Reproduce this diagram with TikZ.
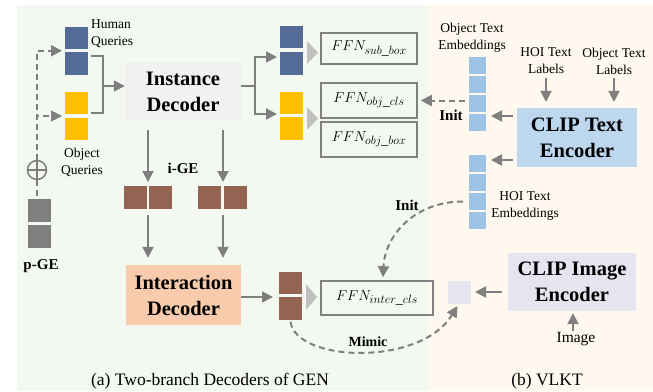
\documentclass[tikz,border=0pt]{standalone}
\usepackage{fontspec}
\setmainfont{Liberation Serif}
\usetikzlibrary{arrows.meta,calc,shapes.geometric}
\DeclareMathSizes{14}{14}{11.5}{8}
\definecolor{greenbg}{HTML}{F3F8F1}
\definecolor{creambg}{HTML}{FEF8EE}
\definecolor{qblue}{HTML}{546B95}
\definecolor{qyellow}{HTML}{FFC000}
\definecolor{brownq}{HTML}{946453}
\definecolor{grayq}{HTML}{7F7F7F}
\definecolor{instgray}{HTML}{F1F1F1}
\definecolor{interpeach}{HTML}{F8CBAD}
\definecolor{clipblue}{HTML}{BDD7EE}
\definecolor{embblue}{HTML}{9DC3E6}
\definecolor{lavender}{HTML}{E6E4EE}
\definecolor{trigray}{HTML}{C0C0C0}
\definecolor{arrgray}{HTML}{7F7F7F}
\definecolor{boxgray}{HTML}{808080}
\newcommand{\ffnlab}[1]{{\fontsize{14}{16}\selectfont$FFN_{#1}$}}
\begin{document}
\begin{tikzpicture}[x=1pt,y=-1pt,
  sq/.style={minimum width=23pt,minimum height=22.5pt,inner sep=0pt,outer sep=0pt},
  emb/.style={minimum width=17pt,minimum height=17pt,inner sep=0pt,outer sep=0pt,fill=embblue},
  ffn/.style={draw=boxgray,line width=1.6pt,inner sep=0pt},
  dec/.style={inner sep=0pt,font=\fontsize{20.5}{26}\selectfont\bfseries,align=center},
  lab/.style={font=\fontsize{13.5}{17}\selectfont,align=center,inner sep=0pt},
  blab/.style={font=\fontsize{15}{17}\selectfont\bfseries,inner sep=0pt},
  captext/.style={font=\fontsize{17.5}{20}\selectfont,inner sep=0pt},
  gl/.style={draw=arrgray,line width=2pt},
  arr/.style={gl,-{Triangle[length=11pt,width=11pt]}},
  darr/.style={arr,line width=2pt,dash pattern=on 6pt off 4pt}]
\useasboundingbox (0,0) rectangle (653,391);
\fill[greenbg] (17,5) rectangle (428,391);
\fill[creambg] (428,5) rectangle (653,391);

% left queries
\node[sq,fill=qblue] (hq1) at (76.5,38) {};
\node[sq,fill=qblue] (hq2) at (76.5,63.5) {};
\node[sq,fill=qyellow] (oq1) at (76.5,103) {};
\node[sq,fill=qyellow] (oq2) at (76.5,129) {};
\node[lab,anchor=west,align=left] (hqlab) at (91,34) {Human\\Queries};
\node[lab] (oqlab) at (82,162) {Object\\Queries};

% p-GE
\node[sq,minimum height=23pt,fill=grayq] (g1) at (39.5,210.5) {};
\node[sq,minimum height=23pt,fill=grayq] (g2) at (39.5,236.5) {};
\node[blab] (pge) at (41,266) {p-GE};
\node[circle,draw=arrgray,line width=1.5pt,minimum size=19pt,inner sep=0pt,
  path picture={\draw[arrgray,line width=1.5pt] (path picture bounding box.north) -- (path picture bounding box.south)
  (path picture bounding box.west) -- (path picture bounding box.east);}] (oplus) at (37,170) {};

% decoders
\node[dec,fill=instgray,minimum width=116pt,minimum height=59pt] (inst) at (183,91.5) {Instance\\Decoder};
\node[dec,fill=interpeach,minimum width=115pt,minimum height=60pt] (inter) at (183.5,295) {Interaction\\Decoder};

% output queries
\node[sq,fill=qblue] (sb1) at (291.5,37) {};
\node[sq,fill=qblue] (sb2) at (291.5,63.5) {};
\node[sq,fill=qyellow] (ob1) at (291.5,103) {};
\node[sq,fill=qyellow] (ob2) at (291.5,128.5) {};
\node[sq,fill=brownq] (bo1) at (290.5,283) {};
\node[sq,fill=brownq] (bo2) at (290.5,308.5) {};
\fill[trigray] (307,41) -- (318,52.5) -- (307,64) -- cycle;
\fill[trigray] (307,107) -- (318,118.5) -- (307,130) -- cycle;
\fill[trigray] (306,284) -- (317,297) -- (306,310) -- cycle;

% FFNs
\node[ffn,minimum width=96pt,minimum height=31pt] (f1) at (369,48.5) {\ffnlab{sub\_box}};
\node[ffn,minimum width=96pt,minimum height=35pt] (f2) at (369,100.5) {\ffnlab{obj\_cls}};
\node[ffn,minimum width=96pt,minimum height=35pt] (f3) at (369,139.5) {\ffnlab{obj\_box}};
\node[ffn,minimum width=112pt,minimum height=34pt] (f4) at (377,298) {\ffnlab{inter\_cls}};

% i-GE
\node[sq,minimum height=23pt,fill=brownq] (b1a) at (135.5,197.5) {};
\node[sq,minimum height=23pt,fill=brownq] (b1b) at (160.5,197.5) {};
\node[sq,minimum height=23pt,fill=brownq] (b2a) at (209.5,197.5) {};
\node[sq,minimum height=23pt,fill=brownq] (b2b) at (235.5,197.5) {};
\node[blab] (ige) at (183,168) {i-GE};
\coordinate (c1) at (148,0);
\coordinate (c2) at (223,0);

% VLKT
\node[emb] (ot1) at (477.5,65) {};
\node[emb] (ot2) at (477.5,84) {};
\node[emb] (ot3) at (477.5,103) {};
\node[emb] (ot4) at (477.5,122) {};
\node[emb] (ht1) at (477.5,163.5) {};
\node[emb] (ht2) at (477.5,182.5) {};
\node[emb] (ht3) at (477.5,201.5) {};
\node[emb] (ht4) at (477.5,220.5) {};
\node[lab] (otlab) at (472,38) {Object Text\\Embeddings};
\node[lab] (htlab) at (525,206) {HOI Text\\Embeddings};
\node[lab] (hoil) at (546,61) {HOI Text\\Labels};
\node[lab] (objl) at (614,61) {Object Text\\Labels};
\node[dec,fill=clipblue,minimum width=120pt,minimum height=59pt] (ctext) at (577,137.5) {CLIP Text\\Encoder};
\node[dec,fill=lavender,minimum width=128pt,minimum height=58pt] (cimg) at (572,282) {CLIP Image\\Encoder};
\node[sq,minimum height=23pt,fill=lavender] (lav) at (459.5,292.5) {};
\node[lab,font=\fontsize{15.5}{17}\selectfont] (imgl) at (576,339) {Image};
\node[blab] (init1) at (451,115) {Init};
\node[blab] (init2) at (407,205) {Init};
\node[blab,font=\fontsize{14}{16}\selectfont\bfseries] (mimic) at (368,342) {Mimic};

% captions
\node[captext] (capa) at (210,381) {(a) Two-branch Decoders of GEN};
\node[captext] (capb) at (547,381) {(b) VLKT};

% connectors: queries -> instance decoder
\coordinate (brt) at (103,56);
\coordinate (brb) at (103,113);
\coordinate (brm) at (103,86);
\draw[gl] ($(hq2.east |- brt)+(2.5,0)$) -- (brt) -- (brb) -- ($(oq1.east |- brb)+(2.5,0)$);
\draw[arr] (brm) -- (brm -| inst.west);

% instance decoder -> outputs
\coordinate (split) at (255,86);
\draw[gl] (inst.east |- split) -- (split);
\draw[arr] (split) |- ($(sb2.west)+(-3,-6.5)$);
\draw[arr] (split) |- ($(ob1.west)+(-3,11)$);

% i-GE arrows
\draw[arr] ($(inst.south -| c1)+(0,9)$) -- ($(b1a.north -| c1)+(0,-4)$);
\draw[arr] ($(inst.south -| c2)+(0,9)$) -- ($(b2a.north -| c2)+(0,-4)$);
\draw[arr] ($(b1a.south -| c1)+(0,6)$) -- ($(inter.north -| c1)+(0,-7)$);
\draw[arr] ($(b2a.south -| c2)+(0,6)$) -- ($(inter.north -| c2)+(0,-7)$);

% interaction -> outputs
\draw[arr] ($(inter.east)+(0,2)$) -- ($(bo1.west |- inter.east)+(-6,2)$);

% p-GE dashed
\draw[darr] (oplus.north) |- ($(hq1.west)!0.5!(hq2.west)+(-3,0)$);
\draw[darr] (oplus.north) |- ($(oq1.west)!0.5!(oq2.west)+(-3,0)$);
\draw[darr,-] (oplus.south) -- (oplus.south |- g1.north);

% CLIP text
\draw[arr] ($(ctext.west)+(-4,-21.5)$) -- ($(ot4.east |- ctext.west)+(5,-21.5)$);
\draw[arr] ($(ctext.west)+(-4,22.5)$) -- ($(ht1.east |- ctext.west)+(5,22.5)$);
\draw[arr] ($(hoil.south)+(0,4)$) -- ($(hoil.south |- ctext.north)+(0,-6)$);
\draw[arr] ($(objl.south)+(0,4)$) -- ($(objl.south |- ctext.north)+(0,-6)$);
\draw[darr] ($(ot3.west |- f2.east)+(-4,0)$) -- ($(f2.east)+(3,0)$);

% CLIP image
\draw[arr] ($(cimg.west)+(-6,10)$) -- ($(lav.east |- cimg.west)+(4,10)$);
\draw[arr] ($(imgl.north -| cimg.south)+(1,-1)$) -- ($(cimg.south)+(1,2)$);

% Init and Mimic curves
\draw[darr] ($(ht3.west)+(-6,0)$) .. controls (415,201.5) and (385,235) .. ($(f4.north)+(6,-3)$);
\draw[darr] ($(bo2.south)+(0,2)$) .. controls (296,362) and (420,367) .. ($(lav.south)+(-2,2)$);
\end{tikzpicture}
\end{document}
